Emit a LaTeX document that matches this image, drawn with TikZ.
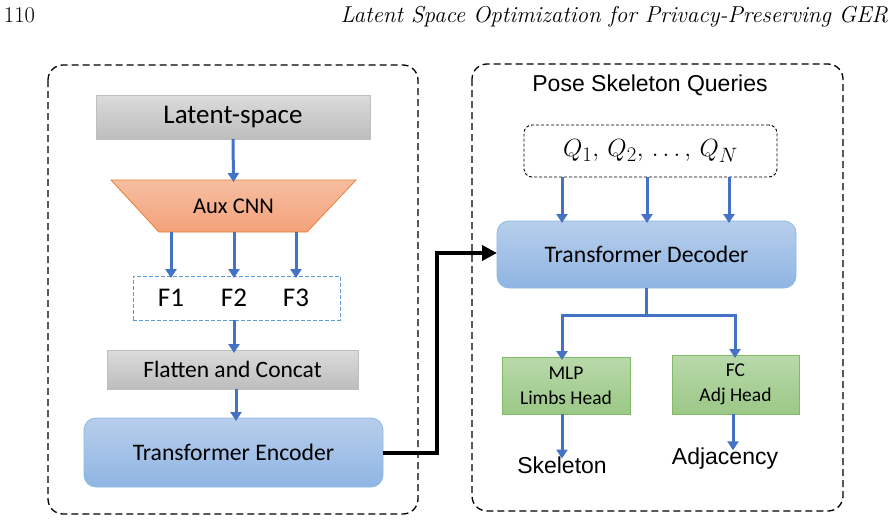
\documentclass[tikz,border=0pt]{standalone}
\usepackage{fontspec}
\newfontfamily\calfont{Carlito}
\newfontfamily\arifont{Liberation Sans}
\usetikzlibrary{arrows.meta}
\definecolor{arrblue}{HTML}{4472C4}
\definecolor{fdash}{HTML}{5B9BD5}
\tikzset{
  arr/.style={draw=arrblue, line width=3pt, -{Triangle[length=9pt,width=11pt]}},
  outer/.style={draw=black, line width=1.3pt, dash pattern=on 7pt off 4pt, rounded corners=15pt},
  graybox/.style={draw=black!25, line width=0.8pt, top color=black!14, bottom color=black!26, inner sep=0pt, outer sep=0pt},
  bluebox/.style={draw=fdash!70, line width=0.8pt, top color={rgb,255:red,183;green,206;blue,235}, bottom color={rgb,255:red,143;green,181;blue,227}, rounded corners=12pt, inner sep=0pt, outer sep=0pt},
  greenbox/.style={draw={rgb,255:red,130;green,185;blue,100}, line width=0.8pt, top color={rgb,255:red,185;green,217;blue,170}, bottom color={rgb,255:red,155;green,200;blue,135}, inner sep=0pt, outer sep=0pt},
  lbl/.style={inner sep=0pt, outer sep=0pt},
}
\begin{document}
\begin{tikzpicture}[x=1pt,y=-1pt]
\useasboundingbox (0,0) rectangle (895,522);
% header
\node[lbl, anchor=base west] (pg) at (4,23) {\fontsize{22.5}{26}\selectfont 110};
\node[lbl, anchor=base east] (ttl) at (888,23) {\fontsize{23}{26}\selectfont\itshape Latent Space Optimization for Privacy-Preserving GER};
% outer boxes
\draw[outer] (48,65) rectangle (418,514);
\draw[outer] (472,64) rectangle (843,511);
% left column
\node[graybox, minimum width=274pt, minimum height=44pt] (latent) at (233,117) {\calfont\fontsize{27}{30}\selectfont Latent-space};
\draw[draw={rgb,255:red,237;green,125;blue,49}, line width=0.8pt,
  top color={rgb,255:red,246;green,190;blue,162}, bottom color={rgb,255:red,244;green,162;blue,122}]
  (111,180) -- (356,180) -- (307,232) -- (159,232) -- cycle;
\coordinate (cnntop) at (233.5,180);
\coordinate (cnnbot) at (233.5,232);
\node[lbl] (cnn) at (233.5,206) {\calfont\fontsize{22.5}{26}\selectfont Aux CNN};
\node[draw=fdash, line width=1pt, dash pattern=on 4pt off 2pt, minimum width=207pt, minimum height=44pt, inner sep=0pt, outer sep=0pt] (fbox) at (236.5,298) {};
\node[lbl] (f1) at (171,298) {\calfont\fontsize{27}{30}\selectfont F1};
\node[lbl] (f2) at (234,298) {\calfont\fontsize{27}{30}\selectfont F2};
\node[lbl] (f3) at (296,298) {\calfont\fontsize{27}{30}\selectfont F3};
\node[graybox, minimum width=251pt, minimum height=39pt] (flat) at (232.5,369.5) {\calfont\fontsize{23.5}{26}\selectfont Flatten and Concat};
\node[bluebox, minimum width=299pt, minimum height=69pt] (enc) at (233.5,452.5) {\calfont\fontsize{23.7}{26}\selectfont Transformer Encoder};
\draw[arr] (latent.south) -- ([yshift=-2pt]cnntop);
\foreach \f in {f1,f2,f3} { \draw[arr] (\f |- cnnbot) -- ([yshift=-2pt]\f |- fbox.north); }
\draw[arr] (fbox.south -| 234,0) -- ([yshift=-3pt]flat.north -| 234,0);
\draw[arr] (flat.south -| 236,0) -- ([yshift=-3pt]enc.north -| 236,0);
% right column
\node[lbl] (pose) at (650,85) {\arifont\fontsize{23}{26}\selectfont Pose Skeleton Queries};
\node[draw=black, line width=0.9pt, dash pattern=on 3pt off 2pt, rounded corners=8pt, minimum width=253pt, minimum height=52pt, inner sep=0pt, outer sep=0pt] (q) at (650.5,151) {\fontsize{30}{33}\selectfont $Q_1,\, Q_2,\, {\ldots}\,,\, Q_N$};
\node[bluebox, minimum width=299pt, minimum height=67pt] (dec) at (646.5,254.5) {\calfont\fontsize{23.7}{26}\selectfont Transformer Decoder};
\foreach \x in {562,647,729} { \draw[arr] (q.south -| \x,0) -- ([yshift=-2pt]dec.north -| \x,0); }
\node[greenbox, minimum width=128pt, minimum height=57pt, align=center, font=\calfont\fontsize{19.5}{25}\selectfont] (mlp) at (566,385.5) {MLP\\ Limbs Head};
\node[greenbox, minimum width=127pt, minimum height=59pt, align=center, font=\calfont\fontsize{19.5}{25}\selectfont] (fc) at (735.5,384.5) {FC\\ Adj Head};
\coordinate (br) at (646,315);
\draw[draw=arrblue, line width=3pt] (dec.south -| br) -- (br);
\draw[arr, line join=miter] (br) -- (562,315) -- ([yshift=-3pt]mlp.north -| 562,0);
\draw[arr, line join=miter] (br) -- (735,315) -- ([yshift=-3pt]fc.north -| 735,0);
\node[lbl] (skel) at (562,465) {\arifont\fontsize{23}{26}\selectfont Skeleton};
\node[lbl] (adj) at (725,459) {\arifont\fontsize{23}{26}\selectfont Adjacency};
\draw[arr] (mlp.south -| 562,0) -- ([yshift=-2pt]skel.north);
\draw[arr] (fc.south -| 733,0) -- ([yshift=-2pt]adj.north -| 733,0);
% black connector
\draw[line width=4pt, line join=miter, -{Triangle[length=15pt,width=15pt]}] (enc.east) -- (437,452.5) -- (437,253) -- (dec.west |- 0,253);
\end{tikzpicture}
\end{document}
